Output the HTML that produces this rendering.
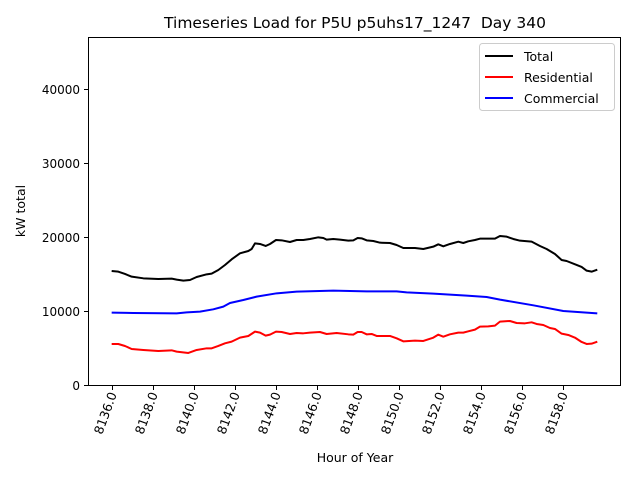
<!DOCTYPE html>
<html><head><meta charset="utf-8"><style>body{margin:0;background:#fff}svg{display:block;font-family:"DejaVu Sans","Liberation Sans",sans-serif}</style></head><body>
<svg width="640" height="480" viewBox="0 0 640 480">
<rect width="640" height="480" fill="#fff"/>
<text x="355" y="28" font-size="15.5" text-anchor="middle" fill="#000" xml:space="preserve">Timeseries Load for P5U p5uhs17_1247  Day 340</text>
<g transform="translate(100,170) scale(0.3333)" fill="none" stroke-width="6" stroke-linejoin="round">
<polyline stroke="#000" points="35,303 55,305 75,312 95,320 130,325 175,327 215,326 230,329 250,332 270,330 290,321 320,313 335,311 355,300 375,285 395,268 420,250 445,243 455,237 465,220 480,222 497,228 510,222 528,210 545,211 570,216 590,210 610,210 630,207 655,202 670,204 680,209 700,207 720,209 745,212 760,211 773,204 785,205 800,211 820,213 840,218 870,219 890,225 910,234 945,234 970,237 1000,230 1015,223 1030,229 1050,222 1075,215 1090,219 1105,214 1125,210 1140,206 1160,206 1185,206 1200,198 1220,200 1240,207 1260,212 1295,215 1320,228 1340,237 1365,252 1385,270 1400,273 1430,285 1445,291 1460,302 1475,305 1492,299"/>
<polyline stroke="#f00" points="35,522 55,522 75,528 95,537 130,540 175,543 215,541 230,545 265,549 290,540 320,535 335,535 355,528 375,520 395,515 420,503 445,498 465,485 480,488 497,497 510,494 528,485 545,486 570,492 590,489 610,490 630,488 660,486 680,492 710,489 745,493 760,494 773,486 785,486 800,493 815,492 830,498 870,498 890,505 910,514 945,512 970,513 1000,503 1015,494 1030,500 1050,493 1075,488 1090,488 1105,484 1125,479 1140,470 1165,469 1185,467 1200,455 1230,453 1250,459 1275,460 1295,457 1310,462 1330,465 1350,474 1365,477 1385,491 1405,495 1425,503 1445,516 1460,522 1475,521 1492,515"/>
<polyline stroke="#00f" points="35,428 100,429 230,430 260,427 300,425 340,418 370,410 390,399 430,390 470,380 530,370 590,365 700,362 800,364 890,364 920,367 1000,371 1100,377 1160,381 1200,389 1300,406 1390,423 1492,430"/>
</g>
<rect x="88.5" y="37.5" width="532" height="348" fill="none" stroke="#000" stroke-width="1"/>
<g stroke="#000" stroke-width="1">
<line x1="84" y1="385.5" x2="88" y2="385.5"/><line x1="84" y1="311.5" x2="88" y2="311.5"/><line x1="84" y1="237.5" x2="88" y2="237.5"/><line x1="84" y1="163.5" x2="88" y2="163.5"/><line x1="84" y1="89.5" x2="88" y2="89.5"/>
</g>
<g font-size="12" text-anchor="end" fill="#000">
<text x="80" y="390">0</text><text x="80" y="316">10000</text><text x="80" y="242">20000</text><text x="80" y="168">30000</text><text x="80" y="94">40000</text>
</g>
<text transform="translate(25,211) rotate(-90)" font-size="12.5" text-anchor="middle">kW total</text>
<g stroke="#000" stroke-width="1">
<line x1="112.5" y1="386" x2="112.5" y2="390"/><line x1="153.5" y1="386" x2="153.5" y2="390"/><line x1="194.5" y1="386" x2="194.5" y2="390"/><line x1="235.5" y1="386" x2="235.5" y2="390"/><line x1="276.5" y1="386" x2="276.5" y2="390"/><line x1="317.5" y1="386" x2="317.5" y2="390"/><line x1="358.5" y1="386" x2="358.5" y2="390"/><line x1="399.5" y1="386" x2="399.5" y2="390"/><line x1="440.5" y1="386" x2="440.5" y2="390"/><line x1="481.5" y1="386" x2="481.5" y2="390"/><line x1="522.5" y1="386" x2="522.5" y2="390"/><line x1="563.5" y1="386" x2="563.5" y2="390"/>
</g>
<g font-size="12.5" text-anchor="end" fill="#000">
<text transform="translate(117,394) rotate(-70)">8136.0</text>
<text transform="translate(158,394) rotate(-70)">8138.0</text>
<text transform="translate(199,394) rotate(-70)">8140.0</text>
<text transform="translate(240,394) rotate(-70)">8142.0</text>
<text transform="translate(281,394) rotate(-70)">8144.0</text>
<text transform="translate(322,394) rotate(-70)">8146.0</text>
<text transform="translate(363,394) rotate(-70)">8148.0</text>
<text transform="translate(404,394) rotate(-70)">8150.0</text>
<text transform="translate(445,394) rotate(-70)">8152.0</text>
<text transform="translate(486,394) rotate(-70)">8154.0</text>
<text transform="translate(527,394) rotate(-70)">8156.0</text>
<text transform="translate(568,394) rotate(-70)">8158.0</text>
</g>
<text x="355" y="462" font-size="12.5" text-anchor="middle">Hour of Year</text>
<rect x="479.5" y="43.5" width="135" height="67" rx="3" fill="#fff" stroke="#ccc"/>
<g stroke-width="2"><line x1="485" y1="56" x2="513" y2="56" stroke="#000"/><line x1="485" y1="77" x2="513" y2="77" stroke="#f00"/><line x1="485" y1="98" x2="513" y2="98" stroke="#00f"/></g>
<g font-size="12.5"><text x="524" y="61">Total</text><text x="524" y="82">Residential</text><text x="524" y="103">Commercial</text></g>
</svg>
</body></html>
